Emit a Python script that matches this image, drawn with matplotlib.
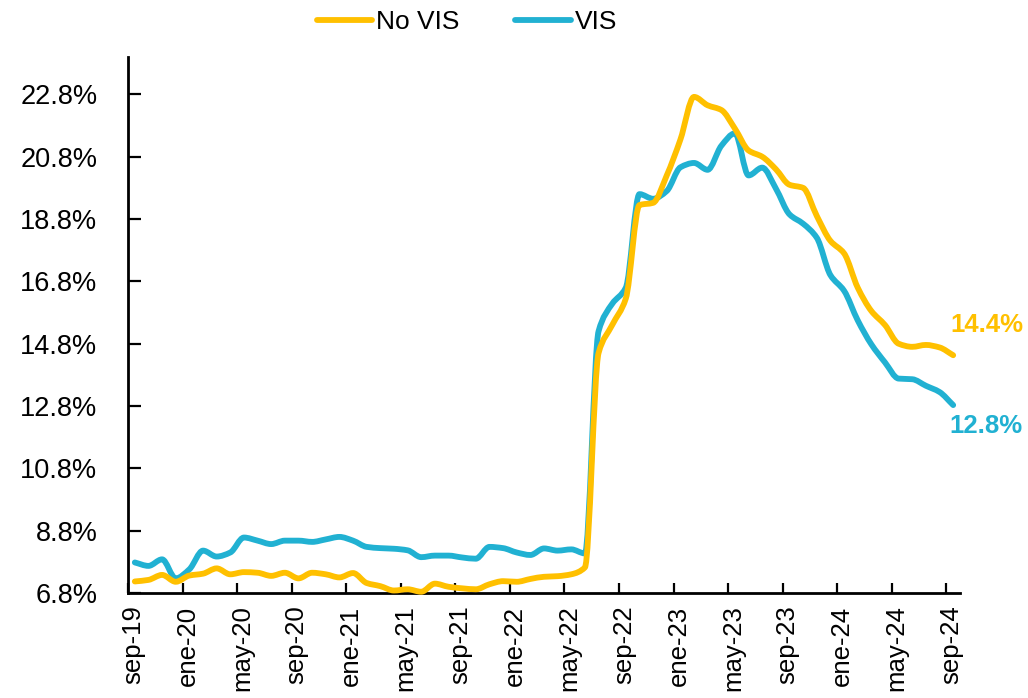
import numpy as np
import matplotlib
matplotlib.use("Agg")
import matplotlib.pyplot as plt
from matplotlib import transforms
from matplotlib.path import Path
from matplotlib.patches import PathPatch
from matplotlib.lines import Line2D

# ---- data (monthly, sep-19 .. sep-24) ----
tick_labels = ["sep-19", "ene-20", "may-20", "sep-20", "ene-21", "may-21", "sep-21",
               "ene-22", "may-22", "sep-22", "ene-23", "may-23", "sep-23", "ene-24",
               "may-24", "sep-24"]

no_vis = [7.17, 7.22, 7.38, 7.16, 7.36, 7.42, 7.59, 7.40, 7.47, 7.45,
          7.35, 7.45, 7.27, 7.45, 7.40, 7.30, 7.44, 7.12, 7.02, 6.88,
          6.92, 6.84, 7.10, 7.00, 6.95, 6.92, 7.08, 7.18, 7.16, 7.25,
          7.32, 7.34, 7.40, 7.62, 14.50, 15.40, 16.25, 19.25, 19.32, 20.20,
          21.35, 22.72, 22.45, 22.30, 21.70, 21.00, 20.80, 20.40, 19.90, 19.80,
          18.90, 18.10, 17.70, 16.60, 15.85, 15.40, 14.80, 14.70, 14.76, 14.68,
          14.43]

vis = [7.78, 7.67, 7.88, 7.27, 7.56, 8.16, 7.97, 8.10, 8.58, 8.48,
       8.37, 8.48, 8.48, 8.44, 8.52, 8.60, 8.48, 8.28, 8.24, 8.22,
       8.17, 7.95, 8.00, 8.00, 7.94, 7.90, 8.28, 8.24, 8.10, 8.02,
       8.23, 8.16, 8.20, 8.07, 15.20, 16.08, 16.60, 19.60, 19.45, 19.70,
       20.46, 20.60, 20.38, 21.15, 21.55, 20.20, 20.45, 19.78, 18.95, 18.65,
       18.20, 17.00, 16.50, 15.55, 14.78, 14.20, 13.68, 13.66, 13.45, 13.25,
       12.83]

series_names = ["No VIS", "VIS"]
end_labels = ["14.4%", "12.8%"]
y_ticks = [6.8, 8.8, 10.8, 12.8, 14.8, 16.8, 18.8, 20.8, 22.8]

YELLOW = "#FFC000"
BLUE = "#21B1D2"
FONT = ["Liberation Sans", "DejaVu Sans"]
LW = 4.2

months = np.arange(len(vis)) + 0.5


def smooth_path(x, y):
    """Smoothed-line rendering: monotone cubic Bezier through every data point (no overshoot)."""
    x = np.asarray(x, float)
    y = np.asarray(y, float)
    n = len(x)
    h = np.diff(x)
    d = np.diff(y) / h
    m = np.zeros(n)
    m[0], m[-1] = d[0], d[-1]
    for i in range(1, n - 1):
        if d[i - 1] * d[i] > 0:
            w1 = 2 * h[i] + h[i - 1]
            w2 = h[i] + 2 * h[i - 1]
            m[i] = (w1 + w2) / (w1 / d[i - 1] + w2 / d[i])
    verts = [(x[0], y[0])]
    codes = [Path.MOVETO]
    for i in range(n - 1):
        c1 = (x[i] + h[i] / 3, y[i] + m[i] * h[i] / 3)
        c2 = (x[i + 1] - h[i] / 3, y[i + 1] - m[i + 1] * h[i] / 3)
        verts += [c1, c2, (x[i + 1], y[i + 1])]
        codes += [Path.CURVE4] * 3
    return Path(verts, codes)


fig = plt.figure(figsize=(10.28, 6.98), dpi=100)
ax = fig.add_axes([128 / 1028, 1 - 593 / 698, (960 - 128) / 1028, (593 - 57) / 698])

for vals, col, z in [(vis, BLUE, 2), (no_vis, YELLOW, 3)]:
    patch = PathPatch(smooth_path(months, vals), facecolor="none", edgecolor=col, lw=LW,
                      joinstyle="round", capstyle="round", clip_on=False, zorder=z)
    ax.add_patch(patch)

ax.set_xlim(0, 61)
ax.set_ylim(6.8, 24.0)

for s in ["top", "right"]:
    ax.spines[s].set_visible(False)
for s in ["left", "bottom"]:
    ax.spines[s].set_linewidth(2.0)
    ax.spines[s].set_color("black")

ax.set_yticks(y_ticks)
ax.set_yticklabels([f"{v:.1f}%" for v in y_ticks], fontfamily=FONT, fontsize=19.5)
ax.tick_params(axis="y", direction="in", length=9, width=1.6, pad=22)

xt = np.arange(0, 61, 4)
ax.set_xticks(xt)
ax.set_xticklabels(tick_labels, rotation=90, fontfamily=FONT,
                   fontsize=18.5, va="top", ha="center")
ax.tick_params(axis="x", direction="in", length=7, width=1.6, pad=9)
offset = transforms.ScaledTranslation(5 / 100, 0, fig.dpi_scale_trans)
for lab in ax.get_xticklabels():
    lab.set_transform(lab.get_transform() + offset)

# end labels
ax.annotate(end_labels[0], xy=(months[-1], no_vis[-1]), xytext=(-2, 22),
            textcoords="offset points", color=YELLOW, fontsize=18.5, fontweight="bold",
            fontfamily=FONT, ha="left", va="center", annotation_clip=False)
ax.annotate(end_labels[1], xy=(months[-1], vis[-1]), xytext=(-3, -15),
            textcoords="offset points", color=BLUE, fontsize=18.5, fontweight="bold",
            fontfamily=FONT, ha="left", va="center", annotation_clip=False)

handles = [Line2D([], [], color=YELLOW, lw=LW, solid_capstyle="round", label=series_names[0]),
           Line2D([], [], color=BLUE, lw=LW, solid_capstyle="round", label=series_names[1])]
fig.legend(handles=handles, loc="center", bbox_to_anchor=(467 / 1028, 1 - 22 / 698),
           ncol=2, frameon=False, handlelength=2.1, handletextpad=0.15,
           columnspacing=2.1, prop={"family": FONT, "size": 19})

fig.savefig("out.png", dpi=100)
